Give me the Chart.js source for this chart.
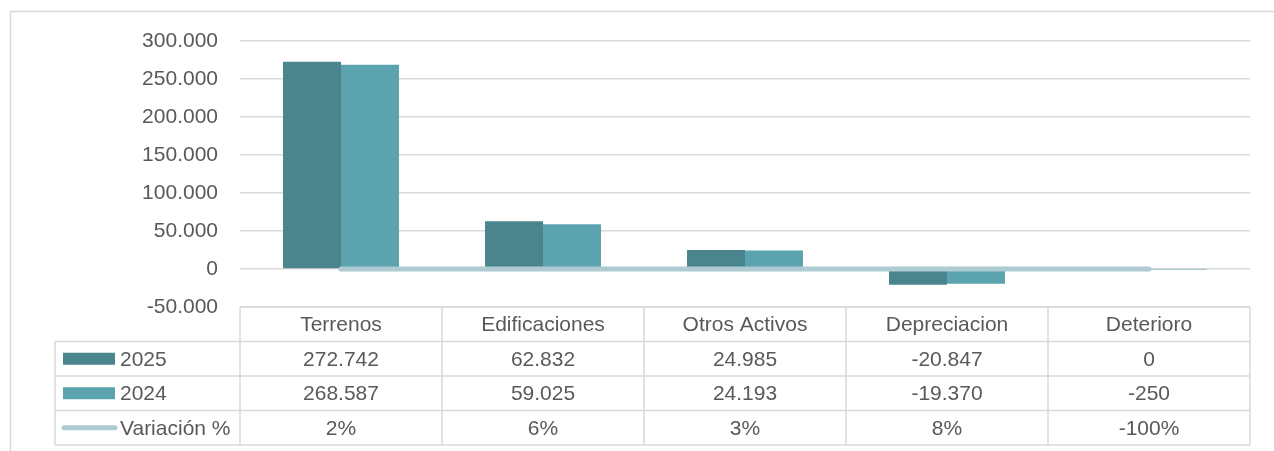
<!DOCTYPE html>
<html>
<head>
<meta charset="utf-8">
<script src="https://cdn.jsdelivr.net/npm/chart.js@4/dist/chart.umd.min.js"></script>
<style>
  body { margin: 0; background: #fff; }
  canvas { display: block; }
</style>
</head>
<body>
<canvas id="chart" width="1274" height="451"></canvas>
<script>
var categorias = ['Terrenos', 'Edificaciones', 'Otros Activos', 'Depreciacion', 'Deterioro'];
var valores2025 = [272742, 62832, 24985, -20847, 0];
var valores2024 = [268587, 59025, 24193, -19370, -250];
var variacion = [0.02, 0.06, 0.03, 0.08, -1.00];
var etiquetasVariacion = ['2%', '6%', '3%', '8%', '-100%'];

var colors = ['#4a848c', '#5ba3ae', '#aecad2'];
var gris = '#595959';
var linea = '#d9d9d9';
var fuente = '"Liberation Sans", Arial, sans-serif';

function miles(v) {
    var s = Math.abs(v).toString().replace(/\B(?=(\d{3})+(?!\d))/g, '.');
    return (v < 0 ? '-' : '') + s;
}

/* tabla de datos bajo el eje, como en Excel */
var tablaPlugin = {
    id: 'tabla',
    afterDraw: function(chart) {
        var ctx = chart.ctx;
        var x = chart.scales.x;
        var area = chart.chartArea;
        var n = categorias.length;
        var ancho = (area.right - area.left) / n;
        var top = area.bottom;
        var fila = 34.5;
        var izq = 55;

        ctx.save();
        // marco exterior
        ctx.strokeStyle = linea;
        ctx.lineWidth = 1.5;
        ctx.strokeRect(10.5, 11.5, 1300, 500);

        // lineas de la tabla
        ctx.beginPath();
        ctx.moveTo(area.left, top);
        ctx.lineTo(area.right, top);
        for (var r = 1; r <= 4; r++) {
            ctx.moveTo(izq, top + fila * r);
            ctx.lineTo(area.right, top + fila * r);
        }
        for (var c = 0; c <= n; c++) {
            var cx = area.left + ancho * c;
            ctx.moveTo(cx, top);
            ctx.lineTo(cx, top + fila * 4);
        }
        ctx.moveTo(izq, top + fila);
        ctx.lineTo(izq, top + fila * 4);
        ctx.stroke();

        ctx.font = '21px ' + fuente;
        ctx.fillStyle = gris;
        ctx.textAlign = 'center';
        ctx.textBaseline = 'middle';
        var filas = [
            categorias,
            valores2025.map(miles),
            valores2024.map(miles),
            etiquetasVariacion
        ];
        for (var i = 0; i < n; i++) {
            var px = x.getPixelForValue(i);
            for (var f = 0; f < filas.length; f++) {
                ctx.fillText(filas[f][i], px, top + fila * f + fila / 2 + 1);
            }
        }

        // leyenda
        var ds = chart.data.datasets;
        ctx.textAlign = 'left';
        for (var k = 0; k < 3; k++) {
            var cy = top + fila * (k + 1) + fila / 2;
            if (k < 2) {
                ctx.fillStyle = ds[k].backgroundColor;
                ctx.fillRect(63, cy - 6, 52, 12);
            } else {
                ctx.strokeStyle = ds[2].borderColor;
                ctx.lineWidth = 5;
                ctx.lineCap = 'round';
                ctx.beginPath();
                ctx.moveTo(64, cy);
                ctx.lineTo(115, cy);
                ctx.stroke();
            }
            ctx.fillStyle = gris;
            ctx.fillText(ds[k].label, 120, cy + 1);
        }
        ctx.restore();
    }
};

new Chart(document.getElementById('chart'), {
    type: 'bar',
    data: {
        labels: categorias,
        datasets: [
            {
                label: '2025',
                data: valores2025,
                backgroundColor: colors[0],
                borderWidth: 0,
                order: 1
            },
            {
                label: '2024',
                data: valores2024,
                backgroundColor: colors[1],
                borderWidth: 0,
                order: 1
            },
            {
                type: 'line',
                label: 'Variación %',
                data: variacion,
                borderColor: colors[2],
                backgroundColor: colors[2],
                borderWidth: 5,
                borderCapStyle: 'round',
                pointRadius: 0,
                order: 0
            }
        ]
    },
    options: {
        responsive: false,
        devicePixelRatio: 1,
        animation: false,
        layout: { padding: { top: 41, right: 24, bottom: 144, left: 0 } },
        datasets: { bar: { categoryPercentage: 0.574, barPercentage: 1.0 } },
        plugins: { legend: { display: false }, tooltip: { enabled: false } },
        scales: {
            x: { display: false },
            y: {
                min: -50000,
                max: 300000,
                afterFit: function(scale) { scale.width = 240; },
                border: { display: false },
                grid: { color: linea, lineWidth: 1.5, drawTicks: false },
                ticks: {
                    stepSize: 50000,
                    padding: 22,
                    color: gris,
                    font: { family: fuente, size: 21 },
                    callback: function(v) { return miles(v); }
                }
            }
        }
    },
    plugins: [tablaPlugin]
});
</script>
</body>
</html>
